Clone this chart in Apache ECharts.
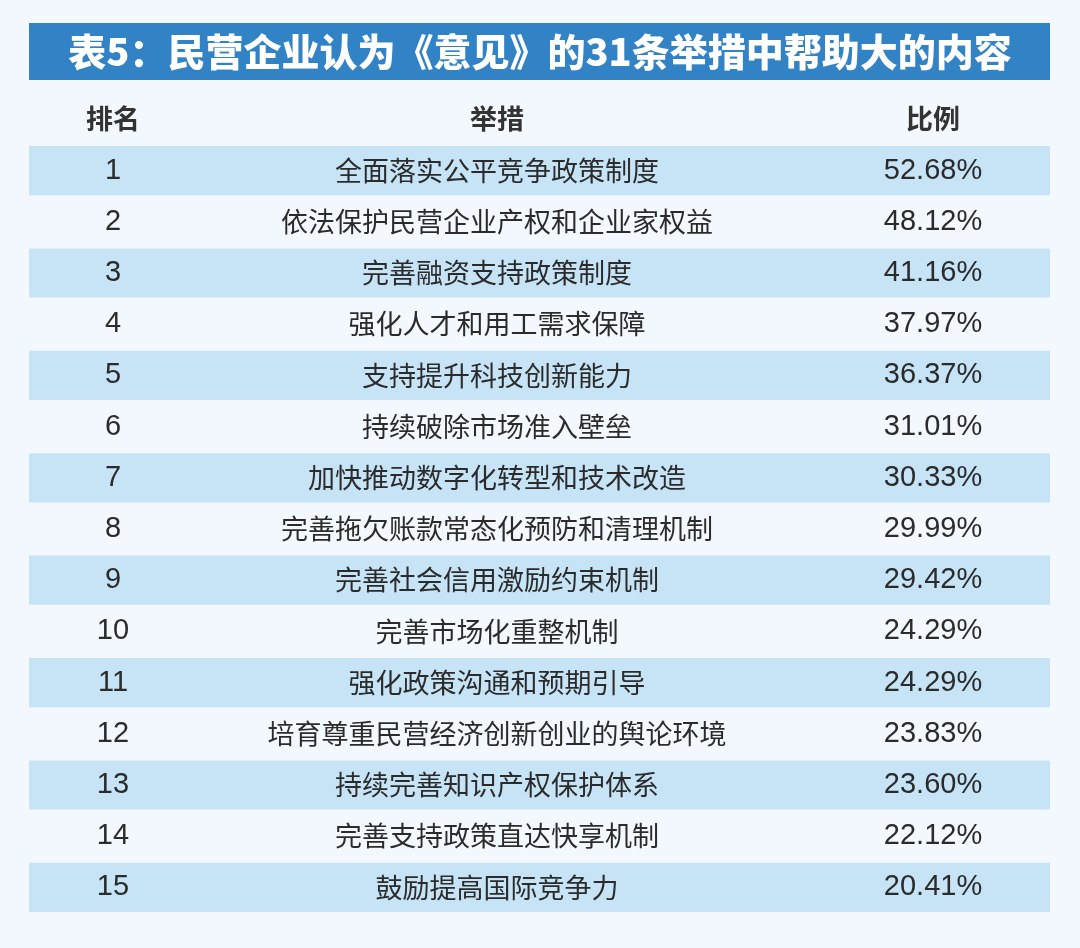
<!DOCTYPE html>
<html><head><meta charset="utf-8">
<script src="https://cdn.jsdelivr.net/npm/echarts@6/dist/echarts.min.js"></script>
<style>html,body{margin:0;background:#f2f8fd}#c{width:1080px;height:948px}</style>
</head><body><div id="c"></div>
<script>
// 表格数据
var ranks = ['1','2','3','4','5','6','7','8','9','10','11','12','13','14','15'];
var measures = ['全面落实公平竞争政策制度','依法保护民营企业产权和企业家权益','完善融资支持政策制度','强化人才和用工需求保障','支持提升科技创新能力','持续破除市场准入壁垒','加快推动数字化转型和技术改造','完善拖欠账款常态化预防和清理机制','完善社会信用激励约束机制','完善市场化重整机制','强化政策沟通和预期引导','培育尊重民营经济创新创业的舆论环境','持续完善知识产权保护体系','完善支持政策直达快享机制','鼓励提高国际竞争力'];
var ratios = [52.68,48.12,41.16,37.97,36.37,31.01,30.33,29.99,29.42,24.29,24.29,23.83,23.60,22.12,20.41];
var headers = ['排名','举措','比例'];
var colX = [113, 497, 933];

var font = '"Noto Sans CJK SC","Noto Sans",sans-serif';
var numFont = '"Liberation Sans","Noto Sans CJK SC",sans-serif';
var chart = echarts.init(document.getElementById('c'));
chart.setOption({
  backgroundColor: '#f2f8fd',
  graphic: [
    {type:'rect', shape:{x:29,y:23,width:1021,height:57}, style:{fill:'#3283c6'}},
    {type:'text', x:540, y:52, style:{text:'表5：民营企业认为《意见》的31条举措中帮助大的内容', fill:'#fff', font:'900 38px '+font, align:'center', verticalAlign:'middle'}}
  ].concat(headers.map(function(h,i){
    return {type:'text', x:colX[i], y:119, style:{text:h, fill:'#333', font:'bold 27px '+font, align:'center', verticalAlign:'middle'}};
  })),
  grid: {left:29, right:30, top:145, bottom:35},
  xAxis: {type:'value', min:0, max:1, show:false},
  yAxis: {type:'category', data:ranks, inverse:true, show:false},
  series: [{
    type:'custom',
    data: ranks.map(function(r,i){ return [0, i]; }),
    renderItem: function(params, api){
      var i = api.value(1);
      var cy = api.coord([0, i])[1];
      var h = api.size([0, 1])[1];
      var cs = params.coordSys;
      var children = [];
      if (i % 2 === 0) children.push({type:'rect', shape:{x:cs.x, y:cy-h/2+1, width:cs.width, height:h-2}, style:{fill:'#c6e4f6'}});
      var texts = [ranks[i], measures[i], ratios[i].toFixed(2)+'%'];
      texts.forEach(function(t,k){
        children.push({type:'text', x:colX[k], y:cy, style:{text:t, fill:'#2b2b2b', font: k === 1 ? '27px '+font : '29px '+numFont, align:'center', verticalAlign:'middle'}});
      });
      return {type:'group', children:children};
    }
  }]
});
</script></body></html>
